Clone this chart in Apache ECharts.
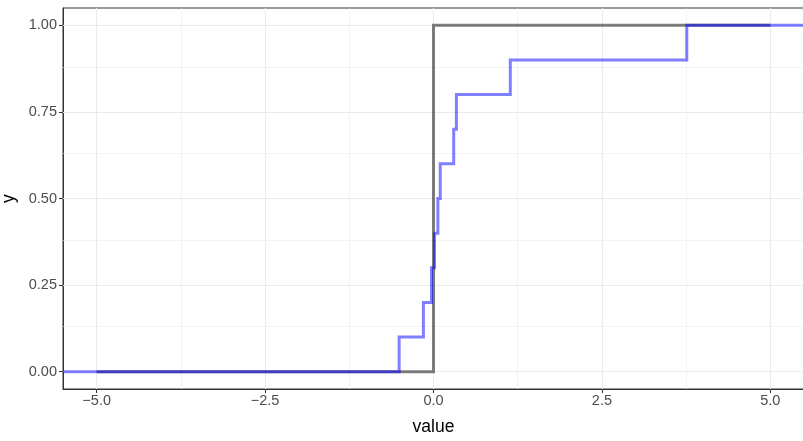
<!DOCTYPE html>
<html>
<head>
<meta charset="utf-8">
<script src="https://cdn.jsdelivr.net/npm/echarts@6/dist/echarts.min.js"></script>
<style>
html,body{margin:0;padding:0;background:#fff;}
#chart{width:803px;height:441px;}
</style>
</head>
<body>
<div id="chart"></div>
<script>
// Data
const grayX = [-5, 0, 5];
const grayY = [0, 1, 1];
const blueX = [-5.5, -0.51, -0.15, -0.03, 0.015, 0.065, 0.10, 0.30, 0.34, 1.14, 3.76, 5.5];
const blueY = [0, 0.1, 0.2, 0.3, 0.4, 0.5, 0.6, 0.7, 0.8, 0.9, 1.0, 1.0];
const xTicks = [-5, -2.5, 0, 2.5, 5];
const xMinor = [-3.75, -1.25, 1.25, 3.75];
const yTicks = [0, 0.25, 0.5, 0.75, 1];
const yMinor = [0.125, 0.375, 0.625, 0.875];

const fmtX = v => (v < 0 ? '\u2212' : '') + Math.abs(v).toFixed(1);
const fmtY = v => v.toFixed(2);

const chart = echarts.init(document.getElementById('chart'), null, {renderer: 'canvas'});
const gridLines = [];
xMinor.forEach(v => gridLines.push({xAxis: v, lineStyle: {color: '#EBEBEB', width: 0.6, type: 'solid'}}));
yMinor.forEach(v => gridLines.push({yAxis: v, lineStyle: {color: '#EBEBEB', width: 0.6, type: 'solid'}}));
xTicks.forEach(v => gridLines.push({xAxis: v, lineStyle: {color: '#EBEBEB', width: 1.1, type: 'solid'}}));
yTicks.forEach(v => gridLines.push({yAxis: v, lineStyle: {color: '#EBEBEB', width: 1.1, type: 'solid'}}));

chart.setOption({
  animation: false,
  backgroundColor: '#fff',
  grid: {left: 63, right: -1, top: 8, bottom: 52, show: true, borderColor: '#333333', borderWidth: 1, backgroundColor: 'transparent', outerBoundsMode: 'none', containLabel: false},
  xAxis: {
    type: 'value', min: -5.5, max: 5.5,
    name: 'value', nameLocation: 'middle', nameGap: 29,
    nameTextStyle: {color: '#000', fontSize: 17.5, fontFamily: 'Liberation Sans, Arial, sans-serif'},
    axisLine: {show: true, onZero: false, lineStyle: {color: '#333333', width: 1}},
    axisTick: {show: true, customValues: xTicks, length: 4, lineStyle: {color: '#333333', width: 1}},
    axisLabel: {show: true, customValues: xTicks, formatter: fmtX, color: '#4D4D4D', fontSize: 14.5, margin: 4, fontFamily: 'Liberation Sans, Arial, sans-serif'},
    splitLine: {show: false}
  },
  yAxis: {
    type: 'value', min: -0.05, max: 1.05,
    name: 'y', nameLocation: 'middle', nameGap: 44, nameRotate: 90,
    nameTextStyle: {color: '#000', fontSize: 17.5, fontFamily: 'Liberation Sans, Arial, sans-serif'},
    axisLine: {show: true, onZero: false, lineStyle: {color: '#333333', width: 1}},
    axisTick: {show: true, customValues: yTicks, length: 4, lineStyle: {color: '#333333', width: 1}},
    axisLabel: {show: true, customValues: yTicks, formatter: fmtY, color: '#4D4D4D', fontSize: 14.5, margin: 6, fontFamily: 'Liberation Sans, Arial, sans-serif'},
    splitLine: {show: false}
  },
  series: [
    {
      type: 'line', data: [], z: 1, silent: true,
      markLine: {silent: true, z: 1, symbol: ['none', 'none'], label: {show: false}, animation: false, data: gridLines}
    },
    {
      type: 'line', step: 'end', showSymbol: false, z: 2,
      data: grayX.map((x, i) => [x, grayY[i]]),
      lineStyle: {color: 'rgba(0,0,0,0.5)', width: 3, cap: 'butt', join: 'miter'},
      itemStyle: {color: 'rgba(0,0,0,0.5)'}
    },
    {
      type: 'line', step: 'end', showSymbol: false, z: 3,
      data: blueX.map((x, i) => [x, blueY[i]]),
      lineStyle: {color: 'rgba(0,0,255,0.5)', width: 3, cap: 'butt', join: 'miter'},
      itemStyle: {color: 'rgba(0,0,255,0.5)'}
    }
  ]
});
</script>
</body>
</html>
